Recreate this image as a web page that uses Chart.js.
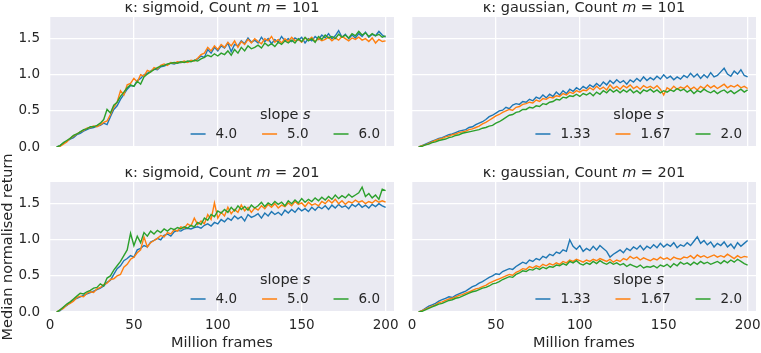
<!DOCTYPE html>
<html>
<head>
<meta charset="utf-8">
<script src="https://cdn.jsdelivr.net/npm/chart.js@4"></script>
<style>
  html, body { margin: 0; padding: 0; background: #ffffff; }
  #wrap { position: relative; width: 761px; height: 353px; overflow: hidden; }
  #wrap canvas { position: absolute; }
</style>
</head>
<body>
<div id="wrap">
  <canvas id="c1" style="left:0px;top:0px;width:400px;height:162px" width="400" height="162"></canvas>
  <canvas id="c2" style="left:400px;top:0px;width:361px;height:162px" width="361" height="162"></canvas>
  <canvas id="c3" style="left:0px;top:140px;width:400px;height:213px" width="400" height="213"></canvas>
  <canvas id="c4" style="left:400px;top:140px;width:361px;height:213px" width="361" height="213"></canvas>
</div>
<script>
// ---------------- DATA ----------------
const frames = [4,6,8,10,12,14,16,18,20,22,24,26,28,30,32,34,36,38,40,42,44,46,48,50,52,54,56,58,60,62,64,66,68,70,72,74,76,78,80,82,84,86,88,90,92,94,96,98,100,102,104,106,108,110,112,114,116,118,120,122,124,126,128,130,132,134,136,138,140,142,144,146,148,150,152,154,156,158,160,162,164,166,168,170,172,174,176,178,180,182,184,186,188,190,192,194,196,198,200];

const kernels = ['sigmoid', 'gaussian'];
const counts = ['101', '201'];
const sigmoidSlopes = ['4.0', '5.0', '6.0'];
const gaussianSlopes = ['1.33', '1.67', '2.0'];
const legendTitle = 'slope ';
const legendTitleVar = 's';
const xLabel = 'Million frames';
const yLabel = 'Median normalised return';

// kappa: sigmoid, m = 101
const sig101_s4 = [0.00,0.02,0.05,0.08,0.11,0.13,0.17,0.19,0.22,0.24,
0.26,0.27,0.29,0.30,0.33,0.31,0.42,0.52,0.57,0.66,
0.73,0.80,0.85,0.84,0.92,0.95,1.00,1.02,1.05,1.08,
1.07,1.11,1.12,1.14,1.16,1.15,1.17,1.17,1.18,1.18,
1.19,1.20,1.22,1.26,1.24,1.35,1.30,1.38,1.33,1.40,
1.37,1.44,1.32,1.42,1.40,1.47,1.43,1.51,1.45,1.48,
1.44,1.52,1.46,1.50,1.43,1.49,1.45,1.53,1.47,1.50,
1.46,1.51,1.48,1.52,1.44,1.50,1.47,1.53,1.49,1.55,
1.51,1.57,1.50,1.54,1.61,1.52,1.56,1.50,1.55,1.51,
1.57,1.53,1.59,1.52,1.56,1.54,1.60,1.55,1.52];
const sig101_s5 = [0.00,0.01,0.04,0.07,0.12,0.15,0.18,0.21,0.23,0.26,
0.27,0.29,0.28,0.31,0.34,0.36,0.45,0.55,0.62,0.78,
0.72,0.86,0.88,0.95,0.90,1.00,0.98,1.06,1.04,1.10,
1.08,1.13,1.15,1.13,1.17,1.16,1.18,1.17,1.19,1.17,
1.20,1.19,1.23,1.28,1.30,1.38,1.33,1.40,1.35,1.42,
1.38,1.45,1.40,1.47,1.38,1.46,1.42,1.49,1.44,1.50,
1.46,1.43,1.50,1.47,1.53,1.45,1.49,1.44,1.50,1.46,
1.52,1.47,1.49,1.45,1.51,1.48,1.52,1.46,1.50,1.47,
1.49,1.52,1.47,1.51,1.48,1.53,1.50,1.47,1.51,1.49,
1.52,1.48,1.50,1.46,1.51,1.44,1.49,1.46,1.47];
const sig101_s6 = [0.00,0.02,0.06,0.09,0.12,0.16,0.18,0.21,0.24,0.25,
0.28,0.28,0.30,0.33,0.38,0.52,0.47,0.58,0.62,0.70,
0.76,0.82,0.86,0.84,0.91,0.87,0.97,1.01,1.04,1.07,
1.10,1.12,1.13,1.15,1.16,1.17,1.16,1.18,1.17,1.19,
1.18,1.20,1.19,1.22,1.24,1.27,1.25,1.29,1.26,1.30,
1.28,1.33,1.27,1.35,1.30,1.38,1.33,1.40,1.36,1.38,
1.41,1.37,1.44,1.40,1.43,1.39,1.45,1.42,1.47,1.44,
1.48,1.44,1.50,1.46,1.52,1.47,1.50,1.45,1.53,1.49,
1.55,1.51,1.53,1.50,1.56,1.52,1.55,1.51,1.57,1.54,
1.60,1.55,1.58,1.53,1.57,1.54,1.56,1.52,1.54];

// kappa: gaussian, m = 101
const gau101_s133 = [0.00,0.02,0.04,0.06,0.08,0.10,0.12,0.13,0.15,0.17,
0.18,0.20,0.22,0.23,0.24,0.27,0.28,0.31,0.33,0.35,
0.38,0.42,0.44,0.47,0.50,0.51,0.55,0.53,0.58,0.60,
0.59,0.63,0.62,0.66,0.64,0.69,0.67,0.72,0.68,0.73,
0.70,0.76,0.72,0.78,0.74,0.80,0.77,0.82,0.79,0.84,
0.81,0.86,0.83,0.88,0.84,0.90,0.86,0.92,0.88,0.93,
0.89,0.92,0.87,0.93,0.90,0.95,0.91,0.97,0.92,0.96,
0.93,0.98,0.94,1.00,0.95,0.98,0.93,0.97,0.94,0.99,
0.96,1.02,0.97,1.01,0.95,1.00,0.96,1.03,0.97,0.99,
1.04,1.09,1.01,0.98,1.05,1.01,1.07,0.99,0.97];
const gau101_s167 = [0.00,0.02,0.03,0.05,0.07,0.09,0.11,0.12,0.14,0.15,
0.17,0.18,0.20,0.21,0.22,0.24,0.25,0.27,0.29,0.32,
0.34,0.37,0.40,0.43,0.45,0.48,0.50,0.52,0.51,0.55,
0.56,0.59,0.60,0.62,0.61,0.65,0.63,0.67,0.66,0.69,
0.68,0.71,0.70,0.74,0.72,0.76,0.74,0.78,0.76,0.79,
0.78,0.82,0.79,0.84,0.80,0.83,0.79,0.86,0.81,0.84,
0.80,0.85,0.82,0.86,0.81,0.84,0.80,0.85,0.82,0.84,
0.81,0.85,0.80,0.72,0.82,0.79,0.84,0.80,0.83,0.81,
0.85,0.80,0.83,0.79,0.84,0.81,0.86,0.82,0.85,0.81,
0.84,0.87,0.82,0.85,0.83,0.86,0.82,0.84,0.81];
const gau101_s2 = [0.00,0.01,0.03,0.04,0.06,0.07,0.09,0.10,0.11,0.13,
0.14,0.16,0.17,0.19,0.20,0.21,0.22,0.23,0.24,0.26,
0.27,0.29,0.30,0.33,0.35,0.38,0.41,0.44,0.45,0.48,
0.49,0.52,0.52,0.55,0.54,0.57,0.56,0.60,0.59,0.62,
0.63,0.66,0.65,0.69,0.68,0.71,0.70,0.73,0.70,0.74,
0.72,0.75,0.71,0.76,0.73,0.78,0.75,0.80,0.76,0.79,
0.75,0.79,0.76,0.80,0.75,0.78,0.74,0.79,0.77,0.80,
0.76,0.79,0.75,0.78,0.76,0.79,0.77,0.81,0.78,0.80,
0.76,0.79,0.74,0.78,0.76,0.80,0.77,0.75,0.78,0.74,
0.77,0.79,0.75,0.78,0.74,0.77,0.80,0.76,0.79];

// kappa: sigmoid, m = 201
const sig201_s4 = [0.00,0.02,0.06,0.09,0.13,0.16,0.19,0.21,0.23,0.25,
0.27,0.29,0.31,0.33,0.36,0.41,0.44,0.52,0.60,0.64,
0.71,0.74,0.78,0.76,0.86,0.88,0.92,0.90,0.97,0.99,
1.02,1.00,1.06,1.08,1.05,1.11,1.13,1.12,1.15,1.16,
1.15,1.17,1.18,1.16,1.20,1.22,1.19,1.24,1.22,1.28,
1.25,1.30,1.27,1.33,1.29,1.32,1.26,1.35,1.31,1.33,
1.36,1.30,1.37,1.33,1.39,1.35,1.38,1.34,1.41,1.37,
1.42,1.38,1.44,1.40,1.43,1.39,1.45,1.41,1.46,1.43,
1.47,1.42,1.48,1.44,1.49,1.45,1.47,1.43,1.49,1.46,
1.50,1.45,1.48,1.44,1.49,1.46,1.50,1.47,1.45];
const sig201_s5 = [0.00,0.03,0.05,0.10,0.12,0.15,0.20,0.22,0.21,0.26,
0.28,0.27,0.32,0.34,0.38,0.40,0.45,0.46,0.50,0.52,
0.62,0.66,0.73,0.76,0.82,0.86,1.04,0.90,0.96,0.99,
1.02,1.06,1.04,1.10,1.08,1.14,1.12,1.18,1.16,1.22,
1.19,1.30,1.21,1.26,1.22,1.35,1.28,1.51,1.30,1.38,
1.33,1.45,1.36,1.42,1.38,1.48,1.40,1.45,1.38,1.44,
1.41,1.47,1.43,1.49,1.45,1.50,1.44,1.48,1.46,1.51,
1.47,1.53,1.49,1.51,1.46,1.52,1.48,1.50,1.47,1.53,
1.50,1.55,1.51,1.56,1.50,1.54,1.49,1.53,1.51,1.55,
1.52,1.54,1.50,1.53,1.51,1.55,1.52,1.54,1.52];
const sig201_s6 = [0.00,0.03,0.07,0.11,0.14,0.18,0.22,0.26,0.25,0.28,
0.30,0.33,0.34,0.39,0.36,0.47,0.50,0.58,0.64,0.70,
0.78,0.86,1.09,0.92,1.05,0.96,1.10,1.05,1.12,1.08,
1.13,1.10,1.15,1.12,1.16,1.14,1.17,1.15,1.18,1.16,
1.20,1.18,1.24,1.21,1.30,1.27,1.35,1.32,1.40,1.37,
1.42,1.38,1.45,1.40,1.47,1.42,1.46,1.41,1.48,1.44,
1.47,1.52,1.46,1.51,1.48,1.53,1.49,1.52,1.47,1.54,
1.50,1.55,1.51,1.57,1.52,1.56,1.53,1.58,1.54,1.59,
1.55,1.60,1.56,1.62,1.57,1.61,1.58,1.63,1.59,1.62,
1.65,1.73,1.60,1.64,1.58,1.62,1.56,1.70,1.68];

// kappa: gaussian, m = 201
const gau201_s133 = [0.00,0.02,0.05,0.08,0.10,0.12,0.15,0.17,0.19,0.21,
0.20,0.23,0.25,0.27,0.29,0.32,0.35,0.37,0.40,0.42,
0.45,0.48,0.50,0.53,0.52,0.56,0.58,0.60,0.59,0.63,
0.66,0.69,0.67,0.72,0.70,0.74,0.72,0.77,0.75,0.80,
0.78,0.83,0.81,0.86,0.84,1.00,0.91,0.87,0.92,0.84,
0.88,0.85,0.91,0.86,0.92,0.88,0.84,0.76,0.80,0.83,
0.86,0.82,0.88,0.85,0.90,0.87,0.92,0.86,0.91,0.88,
0.93,0.89,0.95,0.90,0.94,0.91,0.96,0.89,0.93,0.91,
0.96,0.92,0.98,1.04,0.95,0.99,0.93,0.97,0.90,0.95,
0.92,0.97,0.90,0.94,0.88,0.96,0.91,0.95,0.99];
const gau201_s167 = [0.00,0.02,0.04,0.06,0.08,0.10,0.13,0.14,0.16,0.18,
0.19,0.21,0.23,0.24,0.26,0.28,0.30,0.32,0.33,0.35,
0.37,0.40,0.42,0.44,0.46,0.48,0.50,0.52,0.51,0.55,
0.57,0.60,0.59,0.63,0.61,0.64,0.62,0.66,0.64,0.67,
0.65,0.68,0.66,0.70,0.68,0.72,0.70,0.73,0.71,0.69,
0.72,0.70,0.73,0.71,0.74,0.72,0.70,0.73,0.69,0.72,
0.70,0.74,0.72,0.77,0.74,0.76,0.72,0.75,0.73,0.71,
0.74,0.72,0.76,0.73,0.75,0.72,0.76,0.74,0.73,0.76,
0.75,0.78,0.74,0.79,0.76,0.78,0.75,0.77,0.79,0.76,
0.78,0.76,0.80,0.77,0.74,0.78,0.75,0.77,0.76];
const gau201_s2 = [0.00,0.01,0.03,0.05,0.07,0.09,0.11,0.12,0.14,0.16,
0.17,0.19,0.20,0.22,0.24,0.26,0.28,0.29,0.31,0.33,
0.34,0.36,0.39,0.40,0.42,0.45,0.47,0.49,0.48,0.52,
0.54,0.57,0.56,0.59,0.58,0.61,0.59,0.62,0.60,0.63,
0.62,0.65,0.64,0.67,0.65,0.70,0.68,0.71,0.67,0.65,
0.68,0.66,0.70,0.67,0.71,0.68,0.66,0.69,0.66,0.68,
0.65,0.67,0.63,0.66,0.64,0.62,0.65,0.61,0.63,0.62,
0.64,0.61,0.65,0.63,0.66,0.62,0.67,0.64,0.69,0.66,
0.68,0.65,0.69,0.66,0.70,0.67,0.69,0.66,0.68,0.70,
0.67,0.71,0.68,0.72,0.69,0.73,0.70,0.67,0.65];

// ---------------- STYLE ----------------
const COLORS = ['#1f77b4', '#ff7f0e', '#2ca02c'];
const TEXT = '#262626';
const FONT = '"DejaVu Sans", "Liberation Sans", sans-serif';
Chart.defaults.font.family = FONT;
Chart.defaults.color = TEXT;

const bgPlugin = {
  id: 'axesBg',
  beforeDraw(chart) {
    const {ctx, chartArea: a} = chart;
    ctx.save();
    ctx.fillStyle = '#eaeaf2';
    ctx.fillRect(a.left, a.top, a.right - a.left, a.bottom - a.top);
    ctx.restore();
  }
};

function drawMixed(ctx, parts, cx, y, size) {
  let total = 0;
  const widths = parts.map(p => {
    ctx.font = (p[1] ? 'italic ' : '') + size + 'px ' + FONT;
    const w = ctx.measureText(p[0]).width;
    total += w;
    return w;
  });
  let x = cx - total / 2;
  parts.forEach((p, i) => {
    ctx.font = (p[1] ? 'italic ' : '') + size + 'px ' + FONT;
    ctx.fillText(p[0], x, y);
    x += widths[i];
  });
}

const titlePlugin = {
  id: 'mplTitle',
  afterDraw(chart, args, opts) {
    const {ctx, chartArea: a} = chart;
    ctx.save();
    ctx.fillStyle = TEXT;
    ctx.textBaseline = 'alphabetic';
    ctx.textAlign = 'left';
    drawMixed(ctx, [['\u03ba: ' + opts.kernel + ', Count ', false], ['m', true], [' = ' + opts.count, false]],
      (a.left + a.right) / 2, a.top - 5, 14.5);
    ctx.restore();
  }
};

const legendPlugin = {
  id: 'mplLegend',
  afterDraw(chart) {
    const {ctx, chartArea: a} = chart;
    const ds = chart.data.datasets;
    ctx.save();
    const fs = 13.5;
    ctx.font = fs + 'px ' + FONT;
    const handle = 15, pad = 10, colsp = 25;
    const widths = ds.map(d => ctx.measureText(d.label).width);
    const total = widths.reduce((s, w) => s + handle + pad + w, 0) + colsp * (ds.length - 1);
    let x = a.right - 14 - total;
    const x0 = x;
    const yItems = a.bottom - 13;
    ds.forEach((d, i) => {
      ctx.strokeStyle = d.borderColor;
      ctx.lineWidth = 1.5;
      ctx.beginPath();
      ctx.moveTo(x, yItems);
      ctx.lineTo(x + handle, yItems);
      ctx.stroke();
      ctx.fillStyle = TEXT;
      ctx.textBaseline = 'middle';
      ctx.textAlign = 'left';
      ctx.font = fs + 'px ' + FONT;
      ctx.fillText(d.label, x + handle + pad, yItems + 0.5);
      x += handle + pad + widths[i] + colsp;
    });
    ctx.textBaseline = 'middle';
    drawMixed(ctx, [[legendTitle, false], [legendTitleVar, true]], x0 + total / 2, a.bottom - 32, 14.5);
    ctx.restore();
  }
};

function zeroPad(scale) {
  scale.paddingTop = 0; scale.paddingBottom = 0;
  scale.paddingLeft = 0; scale.paddingRight = 0;
}

function makeChart(id, series, labels, kernel, count, opt) {
  const datasets = series.map((s, i) => ({
    label: labels[i],
    data: s.map((v, k) => ({x: frames[k], y: v})),
    borderColor: COLORS[i],
    backgroundColor: COLORS[i],
    borderWidth: 1.4,
    pointRadius: 0,
    tension: 0,
    fill: false,
    order: 3 - i
  }));
  return new Chart(document.getElementById(id), {
    type: 'line',
    data: {datasets},
    plugins: [bgPlugin, titlePlugin, legendPlugin],
    options: {
      responsive: false,
      animation: false,
      events: [],
      layout: {autoPadding: false, padding: opt.padding},
      plugins: {
        legend: {display: false},
        tooltip: {enabled: false},
        mplTitle: {kernel, count}
      },
      scales: {
        x: {
          type: 'linear',
          min: 0, max: 205,
          border: {display: false},
          grid: {color: '#ffffff', lineWidth: 1.3, drawTicks: false},
          ticks: {
            display: opt.xTicks, stepSize: 50, includeBounds: false,
            padding: 5, maxRotation: 0, autoSkip: false,
            color: TEXT, font: {size: 13.5, family: FONT}
          },
          title: {
            display: opt.xTicks, text: xLabel, color: TEXT,
            font: {size: 14.5, family: FONT}, padding: {top: 0, bottom: 1}
          },
          afterFit(scale) { scale.height = opt.xHeight; zeroPad(scale); }
        },
        y: {
          min: 0, max: 1.8,
          border: {display: false},
          grid: {color: '#ffffff', lineWidth: 1.3, drawTicks: false},
          ticks: {
            display: opt.yTicks, stepSize: 0.5, includeBounds: false,
            padding: 10, color: TEXT, font: {size: 13.5, family: FONT},
            callback: v => Number(v).toFixed(1)
          },
          title: {
            display: opt.yTitle, text: yLabel, color: TEXT,
            font: {size: 14.5, family: FONT}, padding: {top: 0, bottom: 0}
          },
          afterFit(scale) { scale.width = opt.yWidth; zeroPad(scale); }
        }
      }
    }
  });
}

makeChart('c1', [sig101_s4, sig101_s5, sig101_s6], sigmoidSlopes, kernels[0], counts[0],
  {padding: {left: 0, top: 17, right: 6, bottom: 0}, xTicks: false, yTicks: true, yTitle: false, xHeight: 15, yWidth: 50});
makeChart('c2', [gau101_s133, gau101_s167, gau101_s2], gaussianSlopes, kernels[1], counts[0],
  {padding: {left: 12, top: 17, right: 5, bottom: 0}, xTicks: false, yTicks: false, yTitle: false, xHeight: 15, yWidth: 0});
makeChart('c3', [sig201_s4, sig201_s5, sig201_s6], sigmoidSlopes, kernels[0], counts[1],
  {padding: {left: 0, top: 42, right: 6, bottom: 0}, xTicks: true, yTicks: true, yTitle: true, xHeight: 41, yWidth: 50});
makeChart('c4', [gau201_s133, gau201_s167, gau201_s2], gaussianSlopes, kernels[1], counts[1],
  {padding: {left: 12, top: 42, right: 5, bottom: 0}, xTicks: true, yTicks: false, yTitle: false, xHeight: 41, yWidth: 0});
</script>
</body>
</html>
